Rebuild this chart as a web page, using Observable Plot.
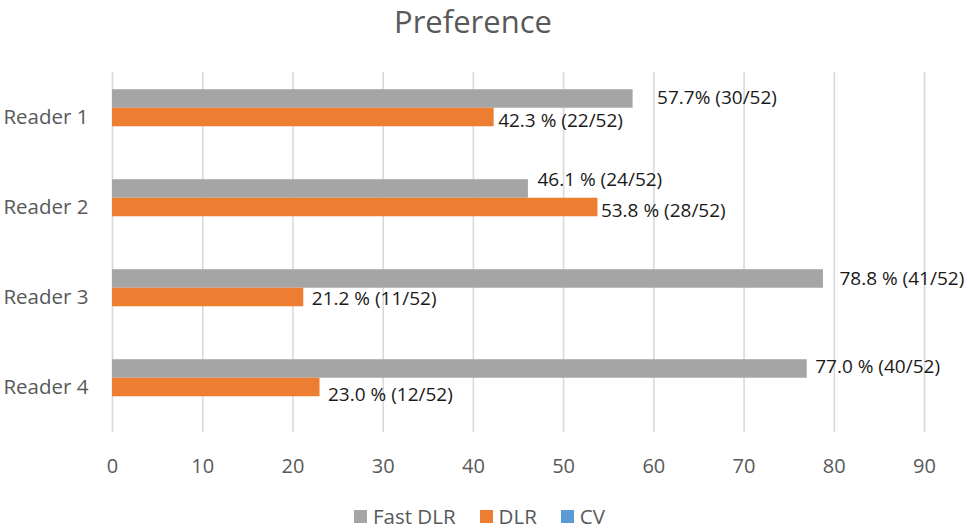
<!DOCTYPE html>
<html>
<head>
<meta charset="utf-8">
<script src="https://cdn.jsdelivr.net/npm/d3@7"></script>
<script src="https://cdn.jsdelivr.net/npm/@observablehq/plot@0.6"></script>
<style>
  html, body { margin: 0; padding: 0; background: #fff; }
  body { width: 968px; height: 530px; overflow: hidden; font-family: "Open Sans", sans-serif; }
  #title { height: 50px; margin: 0; font-size: 31px; line-height: normal; color: #595959; text-align: center; padding-right: 22px; box-sizing: border-box; }
  #chart svg { display: block; }
  #legend { height: 48px; box-sizing: border-box; padding-top: 20px; padding-right: 9px; display: flex; justify-content: center; align-items: flex-start; font-size: 20.5px; line-height: normal; color: #595959; }
  #legend .item { display: flex; align-items: center; margin: 0 12px; }
  #legend .sw { width: 13px; height: 13px; margin-right: 6px; }
</style>
</head>
<body>
<div id="title">Preference</div>
<div id="chart"></div>
<div id="legend"></div>
<script>
// ---- data ----
const readers = ["Reader 1", "Reader 2", "Reader 3", "Reader 4"];
const seriesNames = ["Fast DLR", "DLR", "CV"];
const fastDLR = [57.7, 46.1, 78.8, 77.0];
const dlr = [42.3, 53.8, 21.2, 23.0];
const cv = [0, 0, 0, 0];
const fastDLRLabels = ["57.7% (30/52)", "46.1 % (24/52)", "78.8 % (41/52)", "77.0 % (40/52)"];
const dlrLabels = ["42.3 % (22/52)", "53.8 % (28/52)", "21.2 % (11/52)", "23.0 % (12/52)"];
const xTicks = [0, 10, 20, 30, 40, 50, 60, 70, 80, 90];

// ---- styling ----
const colors = ["#a5a5a5", "#ed7d31", "#5b9bd5"];
// manual label placement (offset from bar end / bar centre), as in the original
const labelNudge = {
  "Reader 1|Fast DLR": [24, -1], "Reader 1|DLR": [4, 3],
  "Reader 2|Fast DLR": [9, -9],  "Reader 2|DLR": [3, 3],
  "Reader 3|Fast DLR": [16, 0],  "Reader 3|DLR": [8, 1.5],
  "Reader 4|Fast DLR": [8, -2],  "Reader 4|DLR": [8, 7.5]
};

const rows = [];
readers.forEach((r, i) => {
  rows.push({reader: r, series: "Fast DLR", value: fastDLR[i], label: fastDLRLabels[i]});
  rows.push({reader: r, series: "DLR", value: dlr[i], label: dlrLabels[i]});
  rows.push({reader: r, series: "CV", value: cv[i], label: null});
});

const labelMarks = rows.filter(d => d.label).map(d => {
  const [dx, dy] = labelNudge[d.reader + "|" + d.series] || [5, 0];
  return Plot.text([d], {
    x: "value", y: "series", fy: "reader", text: "label",
    textAnchor: "start", dx, dy, fontSize: 19, fill: "#1a1a1a",
    fontFamily: "Open Sans"
  });
});

const chart = Plot.plot({
  width: 968,
  height: 432,
  marginTop: 22,
  marginBottom: 50,
  marginLeft: 112,
  marginRight: 44,
  style: {fontFamily: "Open Sans", background: "#fff", overflow: "visible"},
  x: {domain: [0, 90], axis: null},
  y: {domain: seriesNames, axis: null, paddingInner: 0, paddingOuter: 0.93, round: false},
  fy: {domain: readers, padding: 0, axis: null, round: false},
  color: {domain: seriesNames, range: colors},
  marks: [
    Plot.gridX(xTicks, {stroke: "#d9d9d9", strokeOpacity: 1, strokeWidth: 1.6}),
    Plot.barX(rows, {x: "value", y: "series", fy: "reader", fill: "series"}),
    ...labelMarks,
    Plot.axisX(xTicks, {tickSize: 0, tickPadding: 26, fontSize: 20, fill: "#595959", label: null}),
    Plot.axisFy({anchor: "left", tickSize: 0, tickPadding: 24, fontSize: 20.5, fill: "#595959", label: null})
  ]
});
document.getElementById("chart").appendChild(chart);

// legend
const legend = document.getElementById("legend");
seriesNames.forEach((s, i) => {
  const item = document.createElement("div");
  item.className = "item";
  const sw = document.createElement("div");
  sw.className = "sw";
  sw.style.background = colors[i];
  const t = document.createElement("span");
  t.textContent = s;
  item.appendChild(sw);
  item.appendChild(t);
  legend.appendChild(item);
});
</script>
</body>
</html>
